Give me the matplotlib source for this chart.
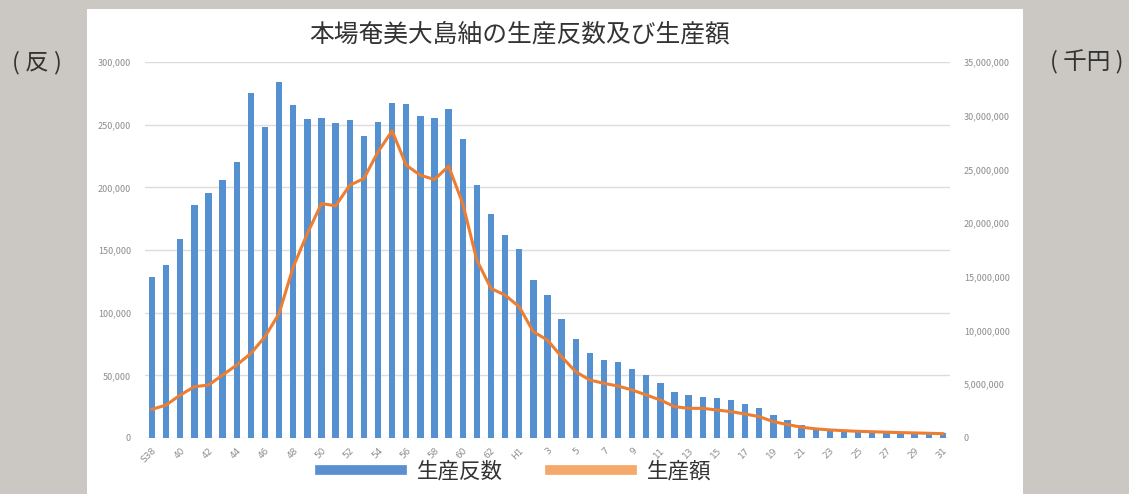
import matplotlib.pyplot as plt
import matplotlib.patches as mpatches
from matplotlib.lines import Line2D
from matplotlib.ticker import FuncFormatter
import numpy as np

plt.rcParams['font.family'] = ['Noto Sans CJK JP', 'DejaVu Sans']

# 昭和38年〜平成31年
years = ['S38', '39', '40', '41', '42', '43', '44', '45', '46', '47', '48', '49',
         '50', '51', '52', '53', '54', '55', '56', '57', '58', '59', '60', '61',
         '62', '63', 'H1', '2', '3', '4', '5', '6', '7', '8', '9', '10', '11',
         '12', '13', '14', '15', '16', '17', '18', '19', '20', '21', '22', '23',
         '24', '25', '26', '27', '28', '29', '30', '31']

# 生産反数 (反)
tan = [128600, 138200, 158400, 186100, 195600, 205800, 220100, 275400, 248300,
       284400, 265800, 254900, 255700, 251700, 254100, 240600, 252000, 267400,
       266400, 256800, 255400, 262600, 238500, 201500, 178400, 161900, 150500,
       126000, 113800, 95200, 79000, 67500, 62200, 60300, 55300, 50200, 43600,
       36900, 34300, 32900, 31600, 30300, 27100, 23700, 18300, 14300, 10400,
       7700, 6900, 6400, 5800, 5600, 5000, 4800, 4500, 4200, 3700]

# 生産額 (千円)
amount = [2667000, 3070000, 4000000, 4774000, 4930000, 5860000, 6790000, 7875000,
          9425000, 11596000, 15935000, 19036000, 21828000, 21610000, 23530000,
          24150000, 26630000, 28585000, 25390000, 24460000, 24060000, 25300000,
          21830000, 16556000, 13920000, 13300000, 12212000, 9890000, 9115000,
          7565000, 6170000, 5395000, 5085000, 4836000, 4465000, 4000000, 3534000,
          2915000, 2760000, 2760000, 2604000, 2450000, 2232000, 1984000, 1519000,
          1250000, 1000000, 850000, 750000, 680000, 620000, 580000, 540000,
          500000, 470000, 440000, 400000]

bar_color = '#5590d0'
line_color = '#ed7d31'
grid_color = '#dcdcdc'
tick_color = '#8c8c8c'

fig = plt.figure(figsize=(11.29, 4.94), dpi=100)
fig.patch.set_facecolor('#cbc8c4')

# white panel behind the chart
panel = mpatches.Rectangle((0.0771, 0.0), 0.829, 0.982, transform=fig.transFigure,
                           facecolor='white', edgecolor='none', zorder=-10)
fig.add_artist(panel)

ax = fig.add_axes([0.1284, 0.1134, 0.713, 0.7611])
ax.set_facecolor('none')
x = np.arange(len(years))
ax.bar(x, tan, width=0.45, color=bar_color, zorder=2)
ax.set_xlim(-0.5, len(years) - 0.5)
ax.set_ylim(0, 300000)
ax.set_yticks(np.arange(0, 300001, 50000))
ax.yaxis.set_major_formatter(FuncFormatter(lambda v, p: f'{int(v):,}'))
ax.grid(axis='y', color=grid_color, linewidth=1, zorder=0)
ax.set_axisbelow(True)
for s in ax.spines.values():
    s.set_visible(False)
ax.tick_params(axis='y', length=0, labelsize=6.5, labelcolor=tick_color, pad=10)
ax.set_xticks(x[::2])
ax.set_xticklabels(years[::2], rotation=45, fontsize=6.5, color=tick_color,
                   ha='right', rotation_mode='anchor', family='DejaVu Sans')
ax.tick_params(axis='x', length=0, pad=6)

ax2 = ax.twinx()
ax2.plot(x, amount, color=line_color, linewidth=2.2, zorder=3)
ax2.set_ylim(0, 35000000)
ax2.set_yticks(np.arange(0, 35000001, 5000000))
ax2.yaxis.set_major_formatter(FuncFormatter(lambda v, p: f'{int(v):,}'))
for s in ax2.spines.values():
    s.set_visible(False)
ax2.tick_params(axis='y', length=0, labelsize=6.5, labelcolor=tick_color, pad=10)

fig.text(0.46, 0.931, '本場奄美大島紬の生産反数及び生産額', ha='center', va='center',
         fontsize=17.8, color='#333333')
fig.text(0.033, 0.874, '( 反 )', ha='center', va='center', fontsize=17, color='#333333')
fig.text(0.963, 0.874, '( 千円 )', ha='center', va='center', fontsize=17, color='#333333')

handles = [Line2D([], [], color='#5b8fd0', linewidth=7),
           Line2D([], [], color='#f4a96a', linewidth=7)]
fig.legend(handles, ['生産反数', '生産額'], loc='center', bbox_to_anchor=(0.457, 0.045),
           ncol=2, frameon=False, fontsize=15.5, handlelength=3.8, columnspacing=2.2,
           handletextpad=0.7, labelcolor='#333333')

fig.savefig('out.png', dpi=100, facecolor=fig.get_facecolor())
